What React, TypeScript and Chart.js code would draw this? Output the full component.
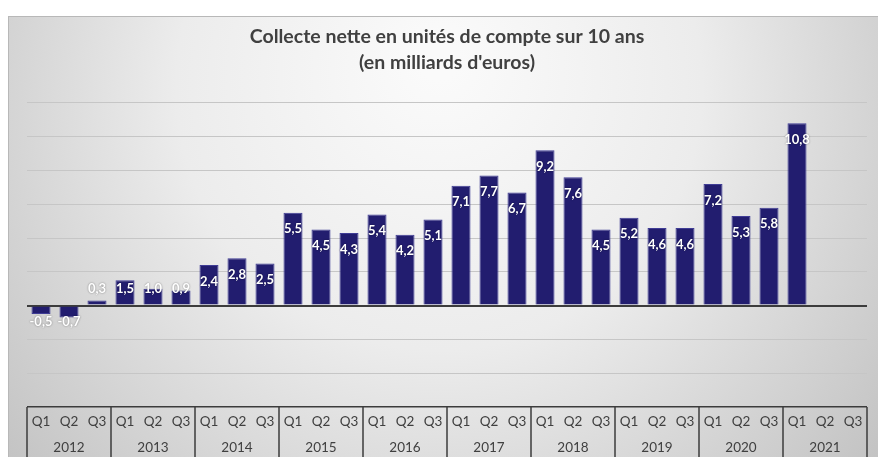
import React, { useEffect, useRef } from "react";
import { Chart, registerables } from "chart.js";

Chart.register(...registerables);

const titleLines = ["Collecte nette en unités de compte sur 10 ans", "(en milliards d'euros)"];
const years = ["2012", "2013", "2014", "2015", "2016", "2017", "2018", "2019", "2020", "2021"];
const quarters = ["Q1", "Q2", "Q3"];
const values: (number | null)[] = [
  -0.5, -0.7, 0.3,
  1.5, 1.0, 0.9,
  2.4, 2.8, 2.5,
  5.5, 4.5, 4.3,
  5.4, 4.2, 5.1,
  7.1, 7.7, 6.7,
  9.2, 7.6, 4.5,
  5.2, 4.6, 4.6,
  7.2, 5.3, 5.8,
  10.8, null, null,
];
const quarterLabels = years.flatMap(() => quarters);

const FONT = "Lato, 'Open Sans', sans-serif";
const TEXT = "#404040";
const BAR = "#221d6f";

const panelPlugin = {
  id: "panel",
  beforeDraw(chart: any) {
    const { ctx, width, height } = chart;
    ctx.save();
    ctx.fillStyle = "#ffffff";
    ctx.fillRect(0, 0, width, height);
    const g = ctx.createRadialGradient(width / 2, 60, 20, width / 2, 120, 560);
    g.addColorStop(0, "#fafafa");
    g.addColorStop(0.45, "#ececec");
    g.addColorStop(1, "#c2c2c2");
    ctx.fillStyle = g;
    ctx.fillRect(8, 16, width - 8, height - 16);
    ctx.strokeStyle = "#b8b8b8";
    ctx.lineWidth = 1;
    ctx.beginPath();
    ctx.moveTo(8, 16.5);
    ctx.lineTo(width, 16.5);
    ctx.moveTo(8.5, 16);
    ctx.lineTo(8.5, height);
    ctx.stroke();
    ctx.restore();
  },
};

const tablePlugin = {
  id: "table",
  afterDraw(chart: any) {
    const { ctx, chartArea, height } = chart;
    const xs = chart.scales.x;
    ctx.save();
    ctx.strokeStyle = "#3c3c3c";
    ctx.lineWidth = 1.5;
    ctx.beginPath();
    for (let i = 0; i <= years.length; i++) {
      const px = Math.round(xs.getPixelForValue(i * quarters.length - 0.5));
      ctx.moveTo(px, chartArea.bottom);
      ctx.lineTo(px, height);
    }
    ctx.stroke();
    ctx.restore();
  },
};

const labelPlugin = {
  id: "barLabels",
  afterDatasetsDraw(chart: any) {
    const { ctx } = chart;
    const ys = chart.scales.y;
    const zero = ys.getPixelForValue(0);
    const meta = chart.getDatasetMeta(0);
    ctx.save();
    ctx.font = `bold 13px ${FONT}`;
    ctx.textAlign = "center";
    ctx.textBaseline = "middle";
    ctx.fillStyle = "#ffffff";
    ctx.shadowColor = "rgba(0,0,0,0.45)";
    ctx.shadowBlur = 2;
    meta.data.forEach((bar: any, i: number) => {
      const v = values[i];
      if (v === null || v === undefined) return;
      let cy: number;
      if (v >= 0) cy = Math.min(bar.y + 16.5, zero - 17);
      else cy = zero + 16;
      ctx.fillText(v.toFixed(1).replace(".", ","), bar.x, cy);
    });
    ctx.restore();
  },
};

export default function App() {
  const ref = useRef<HTMLCanvasElement>(null);
  useEffect(() => {
    document.body.style.margin = "0";
    const canvas = ref.current!;
    const chart = new Chart(canvas, {
      type: "bar",
      data: {
        labels: quarterLabels,
        datasets: [
          {
            data: values as any,
            backgroundColor: BAR,
            borderColor: "#3f3c95",
            borderWidth: 1,
            barPercentage: 0.68,
            categoryPercentage: 1,
            xAxisID: "x",
          },
        ],
      },
      options: {
        animation: false,
        responsive: false,
        devicePixelRatio: 1,
        layout: { padding: { top: 16, left: 27, right: 11, bottom: -2 } },
        plugins: {
          legend: { display: false },
          tooltip: { enabled: false },
          title: {
            display: true,
            text: titleLines,
            color: TEXT,
            font: { family: FONT, size: 19.5, weight: "bold", lineHeight: 1.33 },
            padding: { top: 8, bottom: 27 },
          },
        },
        scales: {
          x: {
            type: "category",
            position: "bottom",
            grid: { display: false, drawTicks: false },
            border: { display: false },
            ticks: {
              color: TEXT,
              font: { family: FONT, size: 13.5, lineHeight: 1 },
              padding: 8,
              autoSkip: false,
              maxRotation: 0,
            },
          },
          x2: {
            type: "category",
            position: "bottom",
            labels: years,
            offset: true,
            grid: { display: false, drawTicks: false },
            border: { display: false },
            ticks: {
              color: TEXT,
              font: { family: FONT, size: 13.5, lineHeight: 1 },
              padding: 4.5,
              autoSkip: false,
              maxRotation: 0,
            },
          },
          y: {
            min: -6,
            max: 12,
            ticks: { stepSize: 2, display: false },
            border: { display: false },
            grid: {
              drawTicks: false,
              color: (c: any) => (c.tick && (c.tick.value === 0 || c.tick.value === -6) ? "#3c3c3c" : "#c6c6c6"),
              lineWidth: (c: any) => (c.tick && c.tick.value === 0 ? 2 : c.tick && c.tick.value === -6 ? 1.5 : 1),
            },
          },
        },
      } as any,
      plugins: [panelPlugin, tablePlugin, labelPlugin],
    });
    return () => chart.destroy();
  }, []);
  return <canvas ref={ref} width={878} height={457} style={{ display: "block" }} />;
}
